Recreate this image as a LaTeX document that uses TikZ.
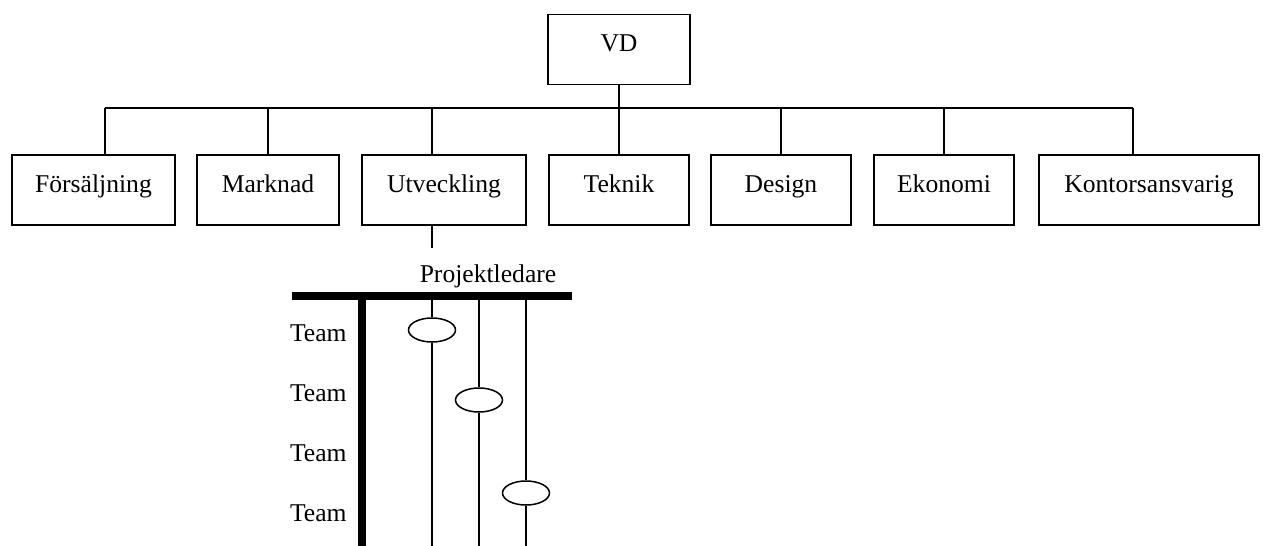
\documentclass[tikz,border=0pt]{standalone}
\usepackage{fontspec}
\setmainfont{Liberation Serif}
\usetikzlibrary{shapes.geometric}

\begin{document}
\begin{tikzpicture}[
    x=0.5pt, y=-0.5pt,
    every node/.style={font=\fontsize{12.8}{15}\selectfont},
    box style/.style={draw, line width=0.75pt, minimum height=35pt, minimum width=#1, inner sep=0pt, text height=0.6em, text depth=0.4em},
    line style/.style={line width=0.75pt},
    bar style/.style={line width=4pt},
    team style/.style={ellipse, draw, fill=white, line width=0.75pt, minimum width=23.5pt, minimum height=12pt, inner sep=0pt},
    label style/.style={inner sep=0pt}
]
\useasboundingbox (0,0) rectangle (1265,546);

% Top box and departments
\node[box style=71pt]   (vd)   at (619,49.5) {VD};
\node[box style=81.5pt] (fors) at (93.5,190) {Försäljning};
\node[box style=71pt]   (mark) at (268,190) {Marknad};
\node[box style=82pt]   (utv)  at (444,190) {Utveckling};
\node[box style=70pt]   (tek)  at (619,190) {Teknik};
\node[box style=70pt]   (des)  at (781,190) {Design};
\node[box style=70pt]   (eko)  at (944,190) {Ekonomi};
\node[box style=110pt]  (kont) at (1149,190) {Kontorsansvarig};

% Bus between VD and the departments
\draw[line style] (vd.south) -- (tek.north);
\foreach \n/\x in {fors/105, mark/268, utv/432, des/781, eko/944, kont/1133} {
    \coordinate (b\n) at (\x,108);
    \draw[line style] (b\n) -- (b\n |- \n.north);
}
\draw[line style] (bfors) -- (bkont);

% Project part below Utveckling
\coordinate (pl) at (432,248);
\draw[line style] (utv.south -| pl) -- (pl);
\node[anchor=base] (proj) at (488,282) {Projektledare};

\coordinate (barL) at (292,296);
\coordinate (barR) at (572,296);
\coordinate (stem) at (362,296);
\coordinate (bot) at (0,546);

% Team ellipses on their lines
\node[team style] (e1) at (432,330) {};
\node[team style] (e2) at (479,400) {};
\node[team style] (e3) at (526,493) {};

\foreach \e in {e1,e2,e3} {
    \draw[line style] (barL -| \e) -- (\e.north);
    \draw[line style] (\e.south) -- (bot -| \e);
}

\draw[bar style] (barL) -- (barR);
\draw[bar style] (stem) -- (stem |- bot);

% Team labels
\foreach \i in {0,...,3} {
    \node[label style, anchor=base east] (team\i) at (347,341+60*\i) {Team};
}
\end{tikzpicture}
\end{document}
